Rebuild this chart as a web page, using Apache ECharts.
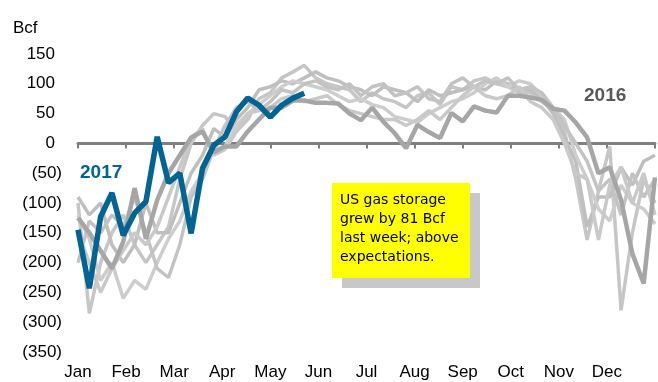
<!DOCTYPE html>
<html>
<head>
<meta charset="utf-8">
<script src="https://cdn.jsdelivr.net/npm/echarts@6/dist/echarts.min.js"></script>
<style>
html,body{margin:0;padding:0;background:#fff;}
#c{width:658px;height:382px;}
</style>
</head>
<body>
<div id="c"></div>
<script>
// ---- data (weekly storage change, Bcf) ----
const months = ['Jan','Feb','Mar','Apr','May','Jun','Jul','Aug','Sep','Oct','Nov','Dec'];
const yTicks = [-350,-300,-250,-200,-150,-100,-50,0,50,100,150];
const weeksPerYear = 52;

const y2017 = [-145,-243,-123,-83,-154,-117,-98,11,-66,-50,-151,-42,-3,11,53,76,64,44,64,76,84];

const y2016 = [-125,-150,-180,-210,-165,-75,-160,-95,-50,-20,10,20,-15,-5,-5,20,40,60,60,72,72,68,68,67,50,39,60,36,17,-8,31,19,9,51,37,62,55,52,80,80,77,73,58,55,35,10,-50,-40,-95,-185,-235,-57];

const histA = [-100,-285,-200,-150,-120,-170,-200,-170,-140,-60,0,30,50,45,20,40,75,85,110,120,131,110,100,95,90,70,85,75,70,60,80,85,65,95,90,105,110,100,95,85,85,70,55,20,-60,-162,-80,-5,-280,-150,-60,-100];
const histB = [-90,-120,-100,-170,-200,-170,-100,-150,-150,-100,-50,-20,25,10,40,60,90,95,105,100,110,120,110,105,95,90,80,95,90,85,70,90,80,85,90,95,90,105,100,92,90,75,50,10,-30,-140,-90,-90,-40,-70,-30,-20];
const histC = [-120,-160,-230,-200,-260,-230,-245,-200,-160,-130,-80,-50,-10,-5,30,50,65,80,95,105,100,95,90,80,70,75,65,60,45,40,35,50,60,70,75,85,100,110,95,105,100,80,60,40,-20,-60,-110,-130,-70,-100,-110,-135];
const histD = [-200,-130,-150,-120,-140,-90,-150,-210,-225,-170,-90,-60,-10,30,60,70,55,70,90,85,100,105,95,90,100,80,95,100,80,85,95,75,70,100,110,95,105,100,110,90,95,85,60,30,0,-30,-80,-60,-120,-50,-90,-60];
const histE = [-150,-200,-250,-210,-180,-150,-170,-140,-90,-40,10,25,-20,-10,20,50,55,60,75,80,70,75,80,65,55,50,45,40,40,30,40,55,40,60,80,95,80,75,80,95,70,60,40,0,-50,-60,-162,-70,-40,-100,-50,-120];

const histSeries = [histA, histB, histC, histD, histE];
const histColors = ['#c6c6c6','#bfbfbf','#cdcdcd','#c3c3c3','#c9c9c9'];

// map week index to month-scale x
function toPoints(arr){
  return arr.map((v,i)=>[i*12/(weeksPerYear-1), v]);
}

const chart = echarts.init(document.getElementById('c'), null, {renderer:'canvas'});

const series = [];
histSeries.forEach((arr,k)=>{
  series.push({
    type:'line', data: toPoints(arr), symbol:'none', xAxisIndex:0,
    lineStyle:{color:histColors[k], width:3.5}, z:2, silent:true
  });
});
series.push({
  type:'line', data: toPoints(y2016), symbol:'none', xAxisIndex:0,
  lineStyle:{color:'#a6a6a6', width:4.5}, z:3
});
series.push({
  type:'line', data: toPoints(y2017), symbol:'none', xAxisIndex:0,
  lineStyle:{color:'#006595', width:5.5}, z:4
});

const fmtY = v => v < 0 ? '(' + (-v) + ')' : '{p|' + v + '}';

chart.setOption({
  animation:false,
  backgroundColor:'#ffffff',
  grid:{left:78, right:0, top:54, bottom:30, containLabel:false},
  xAxis:[{
    type:'value', min:0, max:12, interval:1,
    axisLine:{show:false, onZero:false},
    axisTick:{show:false},
    splitLine:{show:false},
    axisLabel:{
      margin:12, color:'#000', fontSize:17, fontFamily:'Liberation Sans, Arial, sans-serif',
      formatter: v => (v>=0 && v<12) ? months[Math.round(v)] : ''
    }
  },{
    type:'value', min:0, max:12, interval:1, position:'bottom',
    axisLine:{show:true, onZero:true, onZeroAxisIndex:0, lineStyle:{color:'#808080', width:3}},
    axisTick:{show:true, length:5, lineStyle:{color:'#808080', width:2}},
    splitLine:{show:false},
    axisLabel:{show:false}
  }],
  yAxis:{
    type:'value', min:yTicks[0], max:yTicks[yTicks.length-1], interval:50,
    axisLine:{show:false}, axisTick:{show:false}, splitLine:{show:false},
    axisLabel:{
      margin:16, color:'#000', fontSize:17, fontFamily:'Liberation Sans, Arial, sans-serif',
      formatter: fmtY,
      rich:{p:{fontSize:17, fontFamily:'Liberation Sans, Arial, sans-serif', color:'#000', padding:[0,7,0,0]}}
    }
  },
  graphic:[
    {type:'text', left:13, top:20, style:{text:'Bcf', fontSize:17, fontFamily:'Liberation Sans, Arial, sans-serif', fill:'#000'}},
    {type:'text', left:80, top:163, style:{text:'2017', fontSize:19, fontWeight:'bold', fontFamily:'Liberation Sans, Arial, sans-serif', fill:'#006595'}},
    {type:'text', left:584, top:86, style:{text:'2016', fontSize:19, fontWeight:'bold', fontFamily:'Liberation Sans, Arial, sans-serif', fill:'#595959'}},
    {type:'rect', shape:{x:342, y:193, width:138, height:95}, style:{fill:'#c8c8c8'}, z:10},
    {type:'rect', shape:{x:332, y:183, width:138, height:95}, style:{fill:'#ffff00'}, z:11},
    {type:'text', x:340, y:191, z:12, style:{
      text:'US gas storage\ngrew by 81 Bcf\nlast week; above\nexpectations.',
      fontSize:14, lineHeight:19, fontFamily:'Comic Sans MS, DejaVu Sans, sans-serif', fill:'#000'
    }}
  ],
  series: series
});
</script>
</body>
</html>
